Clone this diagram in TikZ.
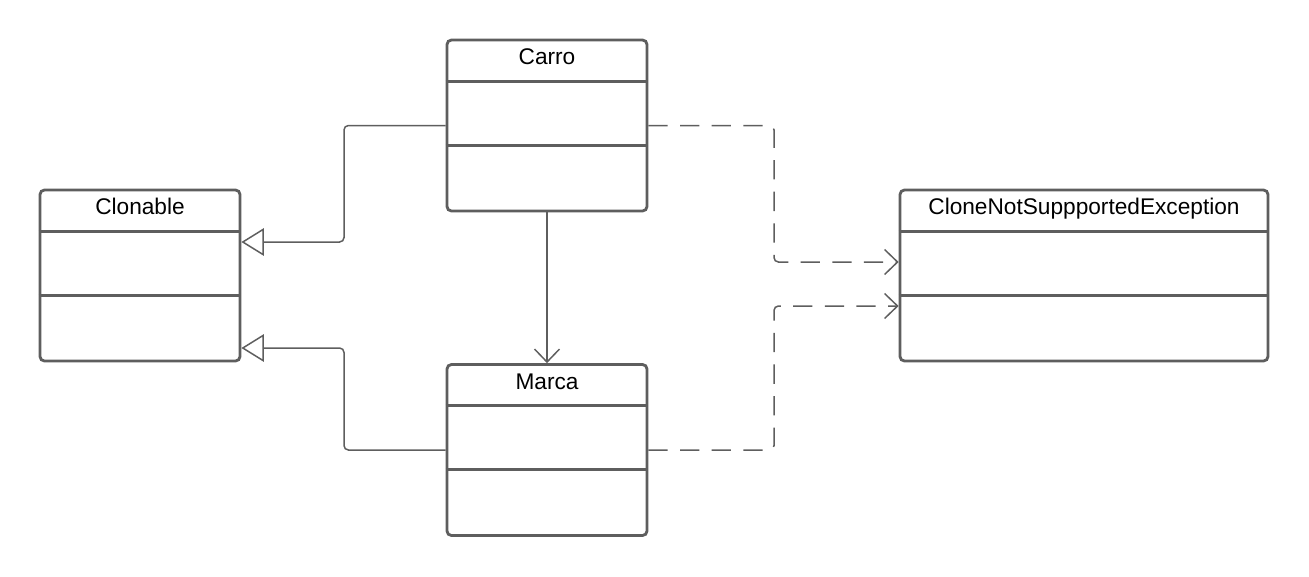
\documentclass[tikz,border=0pt]{standalone}
\usepackage{fontspec}
\setmainfont{Liberation Sans}
\usetikzlibrary{arrows.meta,calc}

\definecolor{umlgray}{HTML}{5E5E5E}

\begin{document}
\begin{tikzpicture}[x=0.02cm,y=-0.02cm,
    classbox/.style={draw=umlgray,line width=1.6pt,rounded corners=2.5pt,
      minimum height=3.42cm,inner sep=0pt},
    classname/.style={anchor=base,font=\fontsize{12.9}{15}\selectfont},
    divider/.style={draw=umlgray,line width=1.6pt},
    link/.style={draw=umlgray,line width=0.85pt,rounded corners=2.5pt},
    realize/.style={link,-{Triangle[open,length=0.45cm,width=0.55cm]}},
    depends/.style={link,dashed,dash pattern=on 11pt off 7pt,
      -{Straight Barb[length=0.26cm,width=0.5cm,line width=0.85pt]}}]
  \useasboundingbox (0,0) rectangle (1309,576);

  % classes
  \node [classbox,minimum width=4cm] (carro) at (547,125.5) {};
  \node [classbox,minimum width=4cm] (marca) at (547,450) {};
  \node [classbox,minimum width=4cm] (clonable) at (140,275.5) {};
  \node [classbox,minimum width=7.36cm] (cnse) at (1084,275.5) {};

  \node [classname] (carro-name) at ($(carro.north)+(0,26)$) {Carro};
  \node [classname] (marca-name) at ($(marca.north)+(0,26)$) {Marca};
  \node [classname] (clonable-name) at ($(clonable.north)+(0,26)$) {Clonable};
  \node [classname] (cnse-name) at ($(cnse.north)+(0,26)$) {CloneNotSuppportedException};

  \foreach \cls in {carro,marca,clonable,cnse} {
    \draw [divider] ($(\cls.north west)+(0,42.5)$) -- ($(\cls.north east)+(0,42.5)$);
    \draw [divider] ($(\cls.north west)+(0,106.5)$) -- ($(\cls.north east)+(0,106.5)$);
  }

  % realization
  \coordinate (clonable-in1) at ($(clonable.east)+(0,-33.5)$);
  \coordinate (clonable-in2) at ($(clonable.east)+(0,72.5)$);
  \draw [realize] (carro.west) -- (344,125.5) -- (344,242) -- (clonable-in1);
  \draw [realize] (marca.west) -- (344,450) -- (344,348) -- (clonable-in2);

  % association
  \draw [link,-{Straight Barb[length=0.26cm,width=0.5cm,line width=0.85pt]}]
    (carro.south) -- (marca.north);

  % dependencies
  \coordinate (cnse-in1) at ($(cnse.west)+(0,-13.5)$);
  \coordinate (cnse-in2) at ($(cnse.west)+(0,30.5)$);
  \draw [depends] (carro.east) -- (774,125.5) -- (774,262) -- (cnse-in1);
  \draw [depends] (marca.east) -- (774,450) -- (774,306) -- (cnse-in2);
\end{tikzpicture}
\end{document}
